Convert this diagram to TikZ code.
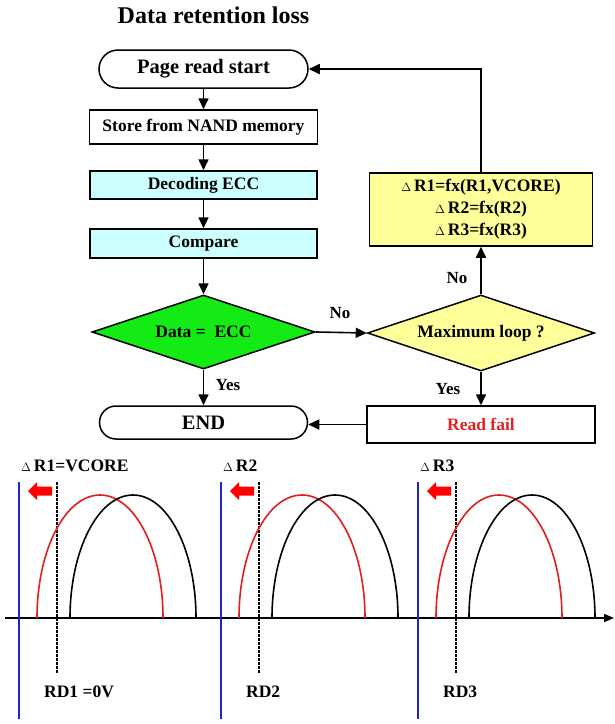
\documentclass[tikz,border=0pt]{standalone}
\usepackage{fontspec}
\setmainfont{Liberation Serif}
\usetikzlibrary{shapes.geometric,arrows.meta}

\definecolor{cyanfill}{RGB}{204,255,255}
\definecolor{greenfill}{RGB}{20,235,20}
\definecolor{yellowfill}{RGB}{255,255,153}
\definecolor{failred}{RGB}{225,35,35}
\definecolor{axisblue}{RGB}{35,35,200}
\definecolor{curvered}{RGB}{225,30,30}

\newcommand\fsz[2]{\fontsize{#1}{#2}\selectfont\bfseries}
\newcommand\tri{{\fontsize{12.5}{12.5}\selectfont$\Delta$}\,}

\begin{document}
\begin{tikzpicture}[x=1pt,y=-1pt,
  flowline/.style={line width=1.6pt},
  arr/.style={flowline,-{Triangle[length=11pt,width=10pt]}},
  procbox/.style={draw,line width=1.5pt,rectangle,inner sep=0pt,font=\fsz{17.5}{21}},
  terminal/.style={procbox,rounded corners=17pt,font=\fsz{20.5}{24}},
  decision/.style={draw,line width=1.5pt,diamond,aspect=3,inner sep=0pt,font=\fsz{17.5}{21}},
  lbl/.style={font=\fsz{17}{20},inner sep=0pt},
  curve/.style={line width=1.6pt},
]
\useasboundingbox (0,0) rectangle (615,724);

% title
\node[font=\fsz{24}{28}] (title) at (213.5,15) {Data retention loss};

% main column
\node[terminal,minimum width=209pt,minimum height=38pt,rounded corners=19pt] (start) at (203.5,69) {Page read start};
\node[procbox,minimum width=228pt,minimum height=34pt] (store) at (203.5,127) {Store from NAND memory};
\node[procbox,fill=cyanfill,minimum width=227pt,minimum height=28pt] (decode) at (203.5,185) {Decoding ECC};
\node[procbox,fill=cyanfill,minimum width=227pt,minimum height=29pt] (compare) at (203.5,243.5) {Compare};
\node[decision,fill=greenfill,minimum width=223pt,minimum height=74pt] (check) at (203.5,332) {Data =\ \ ECC};
\node[terminal,minimum width=208pt,minimum height=33pt,rounded corners=16.5pt] (finish) at (203.5,422.5) {END};

% retry column
\node[procbox,fill=yellowfill,minimum width=223pt,minimum height=73pt,align=center,font=\fsz{17.5}{22}] (adjust) at (481,209.5)
  {\tri R1=fx(R1,VCORE)\\\tri R2=fx(R2)\\\tri R3=fx(R3)};
\node[decision,fill=yellowfill,minimum width=227pt,minimum height=76pt] (maxloop) at (481,333) {Maximum loop ?};
\node[procbox,minimum width=228pt,minimum height=37pt,text=failred] (fail) at (481,424.5) {Read fail};

% connectors
\draw[arr] (start) -- (store);
\draw[arr] (store) -- (decode);
\draw[arr] (decode) -- (compare);
\draw[arr] (compare) -- (check);
\draw[arr] (check) -- (finish);
\draw[arr] (check.east) -- (maxloop.west);
\draw[arr] (maxloop) -- (adjust);
\draw[arr] (maxloop) -- (fail);
\draw[arr] (adjust.north) -- (adjust.north |- start.east) -- (start.east);
\draw[arr] (fail.west) -- (fail.west -| finish.east);

% branch labels
\node[lbl] (yesA) at (228,385) {Yes};
\node[lbl] (noA) at (340,313) {No};
\node[lbl] (noB) at (457,278) {No};
\node[lbl] (yesB) at (448,389) {Yes};

% read-level distributions
\coordinate (axL) at (5,618);
\coordinate (axR) at (614,618);
\draw[line width=1.5pt,-{Triangle[length=10pt,width=8pt]}] (axL) -- (axR);

\foreach \B/\lab/\rd in {19/R1=VCORE/RD1 =0V, 221/R2/RD2, 418/R3/RD3}{
  \draw[axisblue,line width=2pt] (\B,482) -- (\B,719);
  \draw[line width=1.5pt,dash pattern=on 2.5pt off 1.5pt] (\B+38,482) -- (\B+38,673);
  \draw[curve,curvered] (\B+18,618) arc[start angle=180,end angle=0,x radius=63pt,y radius=123pt];
  \draw[curve] (\B+51,618) arc[start angle=180,end angle=0,x radius=63pt,y radius=123pt];
  \fill[red] (\B+9,491) -- (\B+18,482) -- (\B+18,486.5) -- (\B+33,486.5) -- (\B+33,495.5)
    -- (\B+18,495.5) -- (\B+18,500) -- cycle;
  \node[lbl,font=\fsz{17.5}{20},anchor=west] (shift\B) at (\B+2,466) {\tri\lab};
  \node[lbl,font=\fsz{17.5}{20},anchor=west] (rd\B) at (\B+25,692) {\rd};
}
\end{tikzpicture}
\end{document}
